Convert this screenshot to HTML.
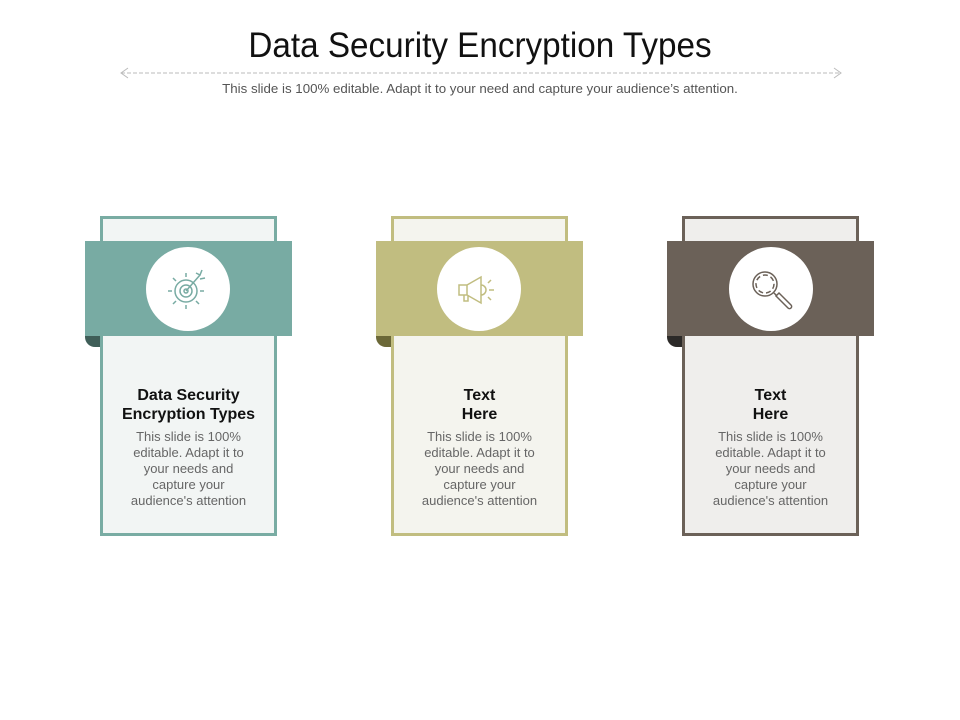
<!DOCTYPE html>
<html><head><meta charset="utf-8"><style>
body{margin:0;width:960px;height:720px;background:#fff;font-family:"Liberation Sans",sans-serif;position:relative;overflow:hidden}
.t{position:absolute;left:0;width:960px;text-align:center;top:26px;font-size:35px;color:#111;transform:scaleX(.95)}
.s{position:absolute;left:0;width:960px;text-align:center;top:81px;font-size:13.3px;color:#555;transform:scaleX(1.0)}
.card{position:absolute;top:216px;width:171px;height:314px;border:3px solid}
.band{position:absolute;top:241px;width:207px;height:95px}
.fold{position:absolute;top:336px;width:15px;height:11px;border-bottom-left-radius:10px}
.circ{position:absolute;top:247px;width:84px;height:84px;border-radius:50%;background:#fff}
.h{position:absolute;top:386px;width:177px;text-align:center;font-weight:bold;font-size:16px;line-height:19px;color:#111}
.b{position:absolute;top:429px;width:177px;text-align:center;font-size:13px;line-height:16px;color:#666}
</style></head><body>
<div class="t">Data Security Encryption Types</div>
<svg style="position:absolute;left:0;top:0" width="960" height="100">
<line x1="121" y1="73" x2="841" y2="73" stroke="#bbb" stroke-dasharray="4,2"/>
<polyline points="128,68 121,73 128,78" fill="none" stroke="#bbb"/>
<polyline points="834,68 841,73 834,78" fill="none" stroke="#bbb"/>
</svg>
<div class="s">This slide is 100% editable. Adapt it to your need and capture your audience’s attention.</div>

<div class="card" style="left:100px;border-color:#79aca3;background:#f2f5f4"></div>
<div class="fold" style="left:85px;background:#3f5e58"></div>
<div class="band" style="left:85px;background:#78aba3"></div>
<div class="circ" style="left:146px"></div>
<svg style="position:absolute;left:164px;top:265px" width="48" height="48" fill="none" stroke="#78aba3" stroke-width="1.5">
<circle cx="22" cy="26" r="11"/><circle cx="22" cy="26" r="6"/><circle cx="22" cy="26" r="2"/>
<path d="M22 12v-4M22 40v4M8 26H4M36 26h4M12 16l-3-3M32 36l3 3M12 36l-3 3"/>
<path d="M22 26L36 10M32 8l4 2 2-5M36 14l5-1"/>
</svg>
<div class="h" style="left:100px">Data Security<br>Encryption Types</div>
<div class="b" style="left:100px">This slide is 100%<br>editable. Adapt it to<br>your needs and<br>capture your<br>audience's attention</div>

<div class="card" style="left:391px;border-color:#c1bd80;background:#f4f4ee"></div>
<div class="fold" style="left:376px;background:#6b6838"></div>
<div class="band" style="left:376px;background:#c1bd80"></div>
<div class="circ" style="left:437px"></div>
<svg style="position:absolute;left:455px;top:265px" width="48" height="48" fill="none" stroke="#c1bd80" stroke-width="1.5">
<path d="M4 20h8v10H4zM12 20l14-8v26l-14-8zM26 20a5 5 0 0 1 0 10M9 30v6h4v-6M33 18l3-3M34 25h5M33 32l3 3"/>
</svg>
<div class="h" style="left:391px">Text<br>Here</div>
<div class="b" style="left:391px">This slide is 100%<br>editable. Adapt it to<br>your needs and<br>capture your<br>audience's attention</div>

<div class="card" style="left:682px;border-color:#6b6158;background:#efeeec"></div>
<div class="fold" style="left:667px;background:#2c2a28"></div>
<div class="band" style="left:667px;background:#6b6158"></div>
<div class="circ" style="left:729px"></div>
<svg style="position:absolute;left:747px;top:265px" width="48" height="48" fill="none" stroke="#6b6158" stroke-width="1.5">
<circle cx="18" cy="19" r="12"/><circle cx="18" cy="19" r="9" stroke-dasharray="5,3"/>
<path d="M27 28l3 3M29 31l12 12a2 2 0 0 0 3-3L32 28z"/>
</svg>
<div class="h" style="left:682px">Text<br>Here</div>
<div class="b" style="left:682px">This slide is 100%<br>editable. Adapt it to<br>your needs and<br>capture your<br>audience's attention</div>
</body></html>
